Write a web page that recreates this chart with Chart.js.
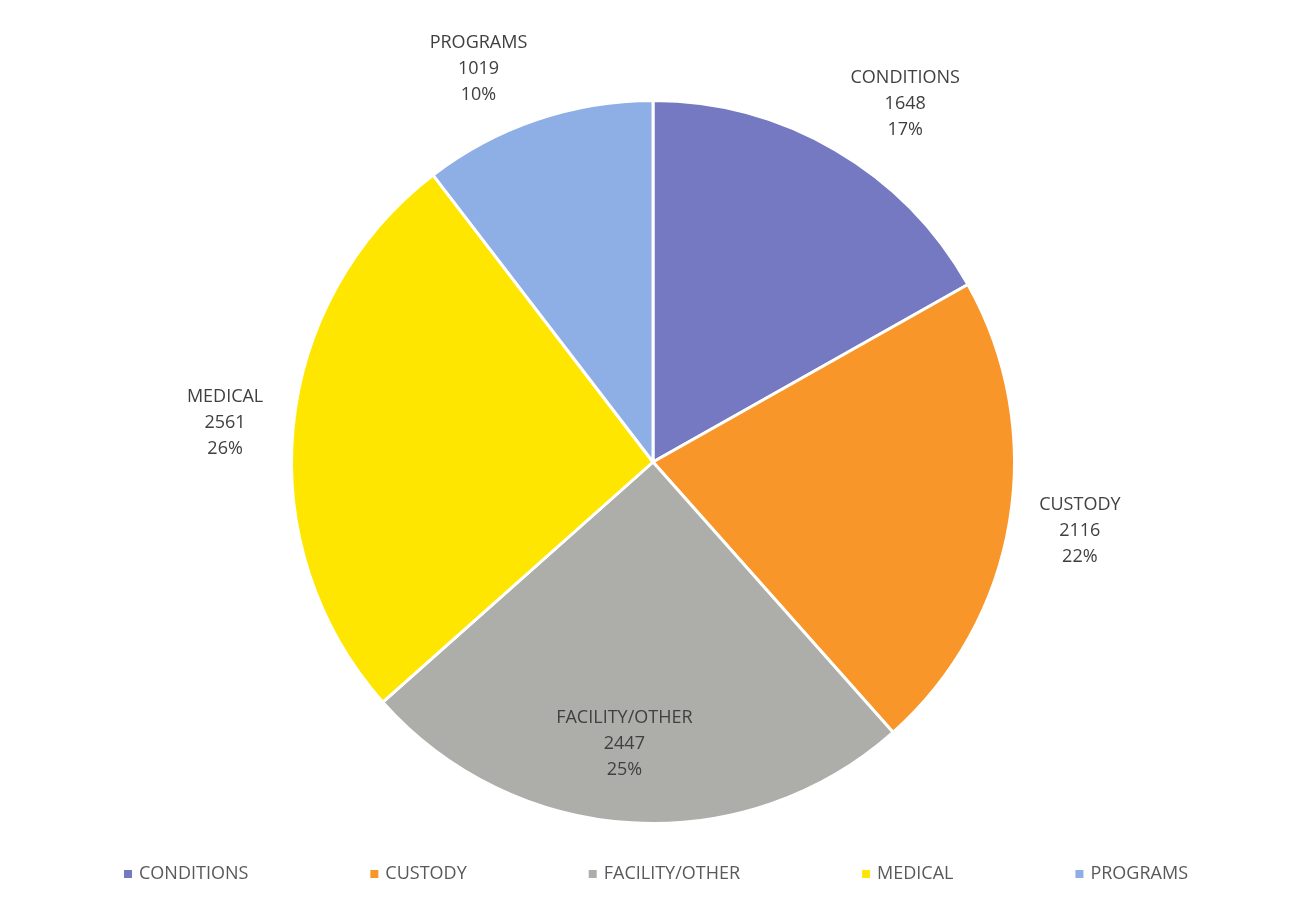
<!DOCTYPE html>
<html>
<head>
<meta charset="utf-8">
<script src="https://cdn.jsdelivr.net/npm/chart.js@4.4.0/dist/chart.umd.min.js"></script>
<style>
  html, body { margin: 0; padding: 0; background: #fff; }
  #wrap { width: 1300px; height: 915px; position: relative; }
</style>
</head>
<body>
<div id="wrap"><canvas id="pieChart" width="1300" height="915"></canvas></div>
<script>
const categories = ["CONDITIONS", "CUSTODY", "FACILITY/OTHER", "MEDICAL", "PROGRAMS"];
const counts = [1648, 2116, 2447, 2561, 1019];
const sliceColors = ["#7479C1", "#F9962A", "#ADAEAA", "#FFE600", "#8EAEE6"];
const insideLabels = ["FACILITY/OTHER"];

const total = counts.reduce((a, b) => a + b, 0);
const FONT = "'Open Sans', 'Noto Sans', sans-serif";

// labels: name / count / percent, outside except the ones listed in insideLabels
const sliceLabels = {
  id: "sliceLabels",
  afterDatasetsDraw(chart) {
    const ctx = chart.ctx;
    const meta = chart.getDatasetMeta(0);
    ctx.save();
    ctx.font = "18px " + FONT;
    ctx.fillStyle = "#404040";
    ctx.textAlign = "center";
    ctx.textBaseline = "middle";
    meta.data.forEach((arc, i) => {
      const p = arc.getProps(["x", "y", "startAngle", "endAngle", "outerRadius"], true);
      const mid = (p.startAngle + p.endAngle) / 2;
      const cos = Math.cos(mid), sin = Math.sin(mid);
      const lines = [
        categories[i],
        String(counts[i]),
        Math.round(counts[i] / total * 100) + "%"
      ];
      const w = Math.max(...lines.map(t => ctx.measureText(t).width));
      const lh = 26;
      const h = lh * lines.length;
      let cx, cy;
      if (insideLabels.includes(categories[i])) {
        cx = p.x + cos * p.outerRadius * 0.78 - 12;
        cy = p.y + sin * p.outerRadius * 0.78;
      } else {
        const d = p.outerRadius + 30;
        cx = p.x + cos * d + Math.sign(cos) * w / 2;
        cy = p.y + sin * d + sin * h * 0.3;
      }
      lines.forEach((t, k) => {
        ctx.fillText(t, cx, cy + (k - (lines.length - 1) / 2) * lh);
      });
    });
    ctx.restore();
  }
};

// legend row along the bottom
const bottomLegend = {
  id: "bottomLegend",
  afterDraw(chart) {
    const ctx = chart.ctx;
    ctx.save();
    ctx.font = "18px " + FONT;
    ctx.textBaseline = "middle";
    const box = 8, gapText = 7, gapItem = 122;
    const widths = categories.map(c => box + gapText + ctx.measureText(c).width);
    const full = widths.reduce((a, b) => a + b, 0) + gapItem * (categories.length - 1);
    let x = 656 - full / 2;
    const y = 874;
    categories.forEach((c, i) => {
      ctx.fillStyle = sliceColors[i];
      ctx.fillRect(x, y - box / 2, box, box);
      ctx.fillStyle = "#595959";
      ctx.fillText(c, x + box + gapText, y);
      x += widths[i] + gapItem;
    });
    ctx.restore();
  }
};

new Chart(document.getElementById("pieChart").getContext("2d"), {
  type: "pie",
  data: {
    labels: categories,
    datasets: [
      {
        data: counts,
        backgroundColor: sliceColors,
        borderColor: "#ffffff",
        borderWidth: 3,
      },
    ],
  },
  options: {
    responsive: false,
    animation: false,
    layout: {
      padding: { top: 99, bottom: 90, left: 6, right: 0 },
    },
    plugins: {
      legend: { display: false },
      tooltip: { enabled: false },
    },
  },
  plugins: [sliceLabels, bottomLegend],
});
</script>
</body>
</html>
